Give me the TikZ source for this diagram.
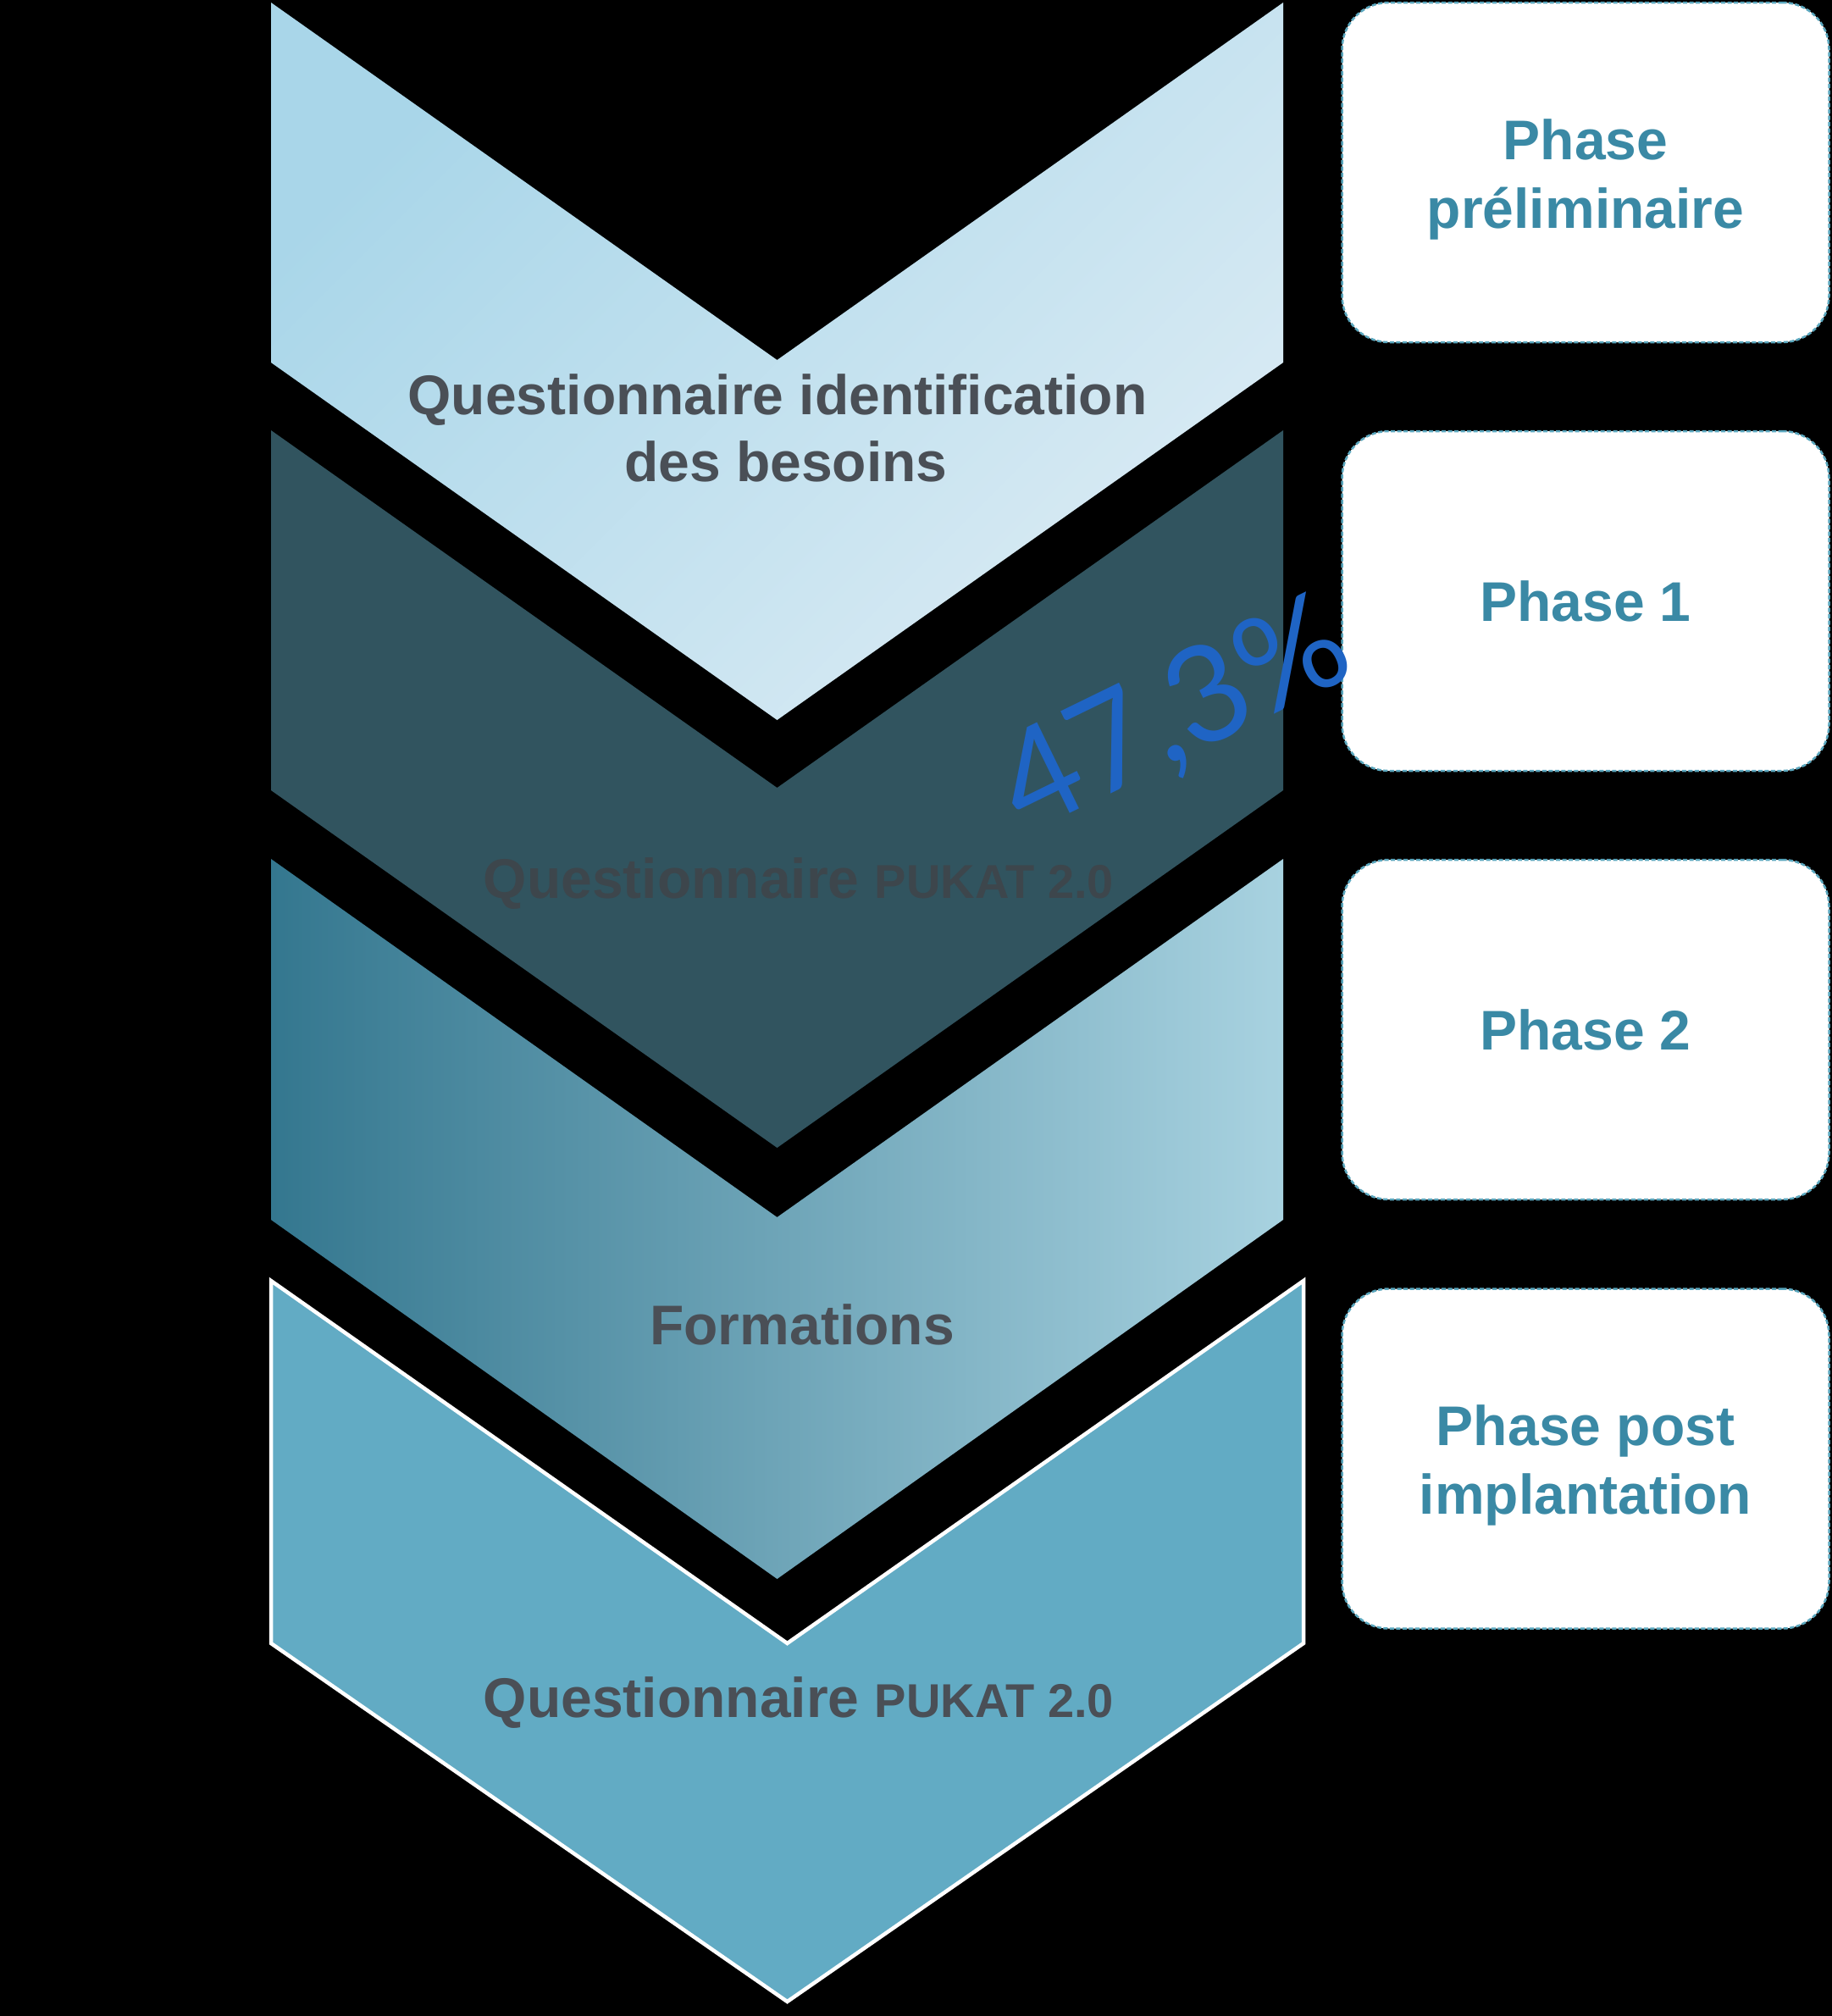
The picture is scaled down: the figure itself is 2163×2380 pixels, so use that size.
\documentclass[tikz,border=0pt]{standalone}
\usepackage{fontspec}
\setmainfont{Liberation Sans}
\newfontfamily\pctfont{Lato}
\definecolor{cA}{HTML}{A9D6E9}
\definecolor{cB}{HTML}{DAEBF4}
\definecolor{cDark}{HTML}{31545F}
\definecolor{cL}{HTML}{34778F}
\definecolor{cM}{HTML}{5EA8C1}
\definecolor{cR}{HTML}{A8D2E0}
\definecolor{cFour}{HTML}{62ABC4}
\definecolor{txtgray}{HTML}{4A4F56}
\definecolor{txtdim}{HTML}{3D464C}
\definecolor{phasetxt}{HTML}{3A89A5}
\definecolor{boxline}{HTML}{5AA7BE}
\definecolor{pctblue}{HTML}{1F64C4}
\begin{document}
\begin{tikzpicture}[x=1pt,y=-1pt,
  chevtext/.style={anchor=base, inner sep=0pt, font=\bfseries\fontsize{66}{79}\selectfont, text=txtgray},
  phasebox/.style={draw=boxline, fill=white, line width=2.5pt, dash pattern=on 5pt off 2.5pt,
     rounded corners=55pt, minimum width=575pt, minimum height=401pt, inner sep=0pt},
  phasetext/.style={align=center, text=phasetxt, inner sep=0pt, font=\bfseries\fontsize{66}{81}\selectfont}]
\fill[black] (0,0) rectangle (2163,2380);
\useasboundingbox (0,0) rectangle (2163,2380);

% chevrons
\shade[top color=cA, bottom color=cB, shading angle=45]
  (320,3) -- (917.5,425) -- (1515,3) -- (1515,428) -- (917.5,850) -- (320,428) -- cycle;
\fill[cDark]
  (320,508) -- (917.5,930) -- (1515,508) -- (1515,933) -- (917.5,1355) -- (320,933) -- cycle;
\shade[left color=cL, middle color=cM, right color=cR]
  (320,1014) -- (917.5,1437) -- (1515,1014) -- (1515,1440) -- (917.5,1864) -- (320,1440) -- cycle;
\filldraw[fill=cFour, draw=white, line width=4.5pt, line join=miter]
  (320,1512) -- (929.5,1940) -- (1539,1512) -- (1539,1940) -- (929.5,2363) -- (320,1940) -- cycle;

% chevron texts
\node[chevtext] (q1a) at (918,489) {Questionnaire identification};
\node[chevtext] (q1b) at (928,568) {des besoins};
\node[chevtext, text=txtdim] (q2) at (943,1060) {Questionnaire {\fontsize{56}{67}\selectfont PUKAT 2.0}};
\node[chevtext] (f3) at (947,1587) {Formations};
\node[chevtext] (q4) at (943,2027) {Questionnaire {\fontsize{56}{67}\selectfont PUKAT 2.0}};

% phase boxes
\node[phasebox] (b1) at (1872,203.5) {};
\node[phasebox] (b2) at (1872,709.5) {};
\node[phasebox] (b3) at (1872,1215.5) {};
\node[phasebox] (b4) at (1872,1722) {};
\node[phasetext, yshift=-8pt] (t1) at (b1.center) {Phase\\préliminaire};
\node[phasetext] (t2) at (b2.center) {Phase 1};
\node[phasetext] (t3) at (b3.center) {Phase 2};
\node[phasetext, yshift=-8pt] (t4) at (b4.center) {Phase post\\implantation};

% percentage
\node[rotate=26, text=pctblue, draw=none, inner sep=0pt, font=\pctfont\fontsize{158}{158}\selectfont] (pct) at (1388,848) {47,3\%};
\end{tikzpicture}
\end{document}
